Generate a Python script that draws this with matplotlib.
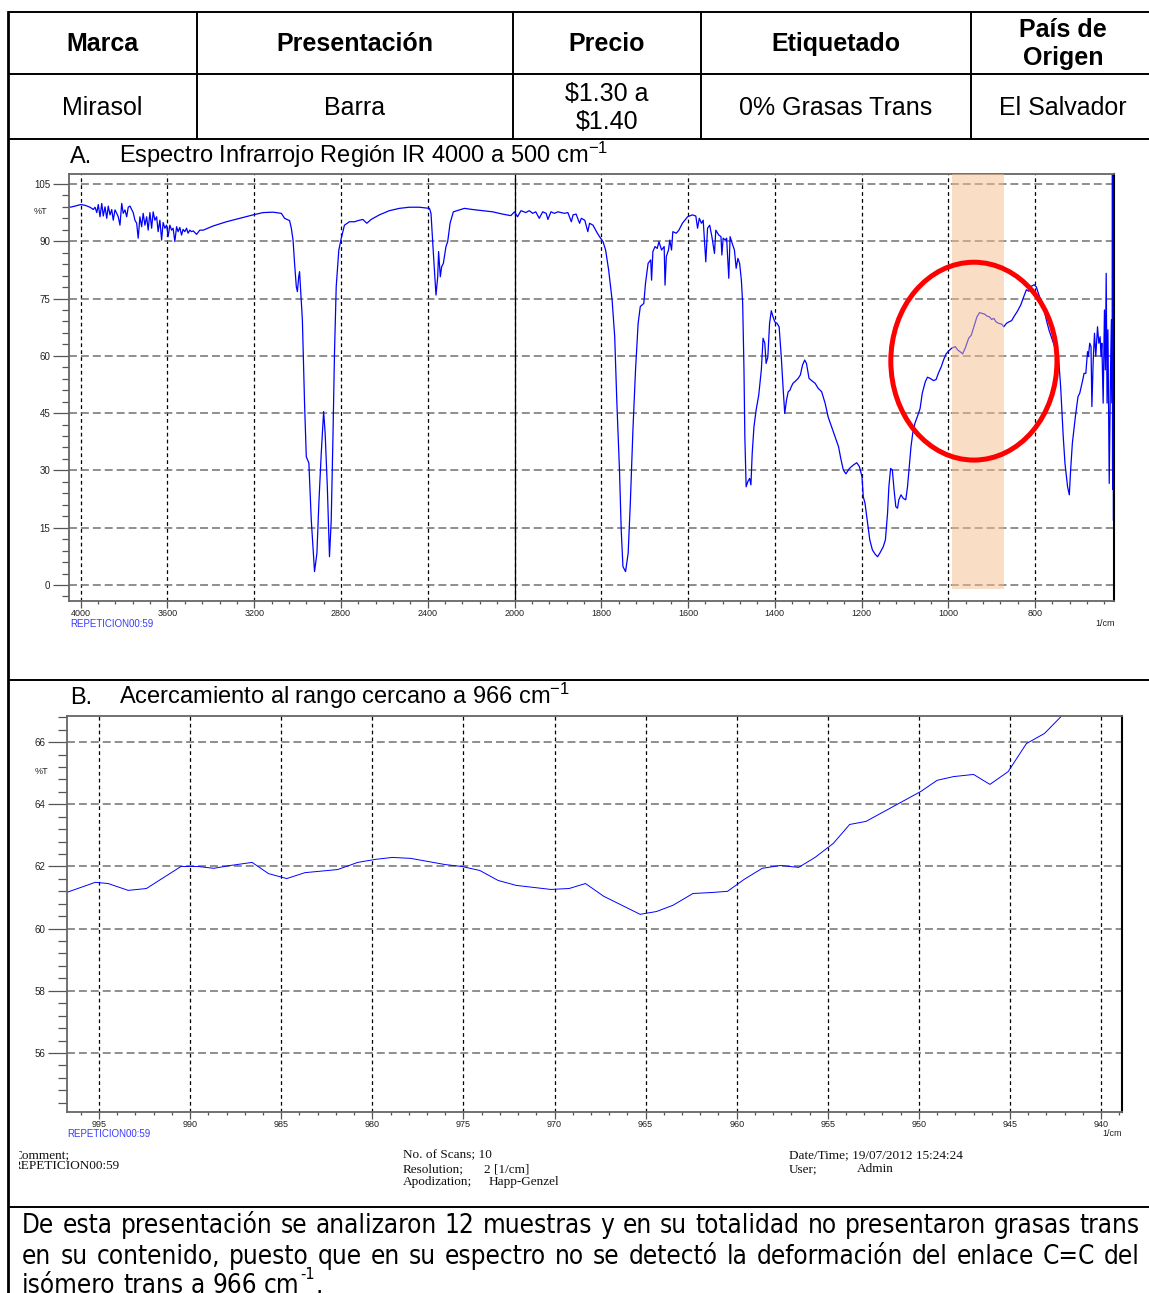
import numpy as np
import matplotlib
matplotlib.use("Agg")
import matplotlib.pyplot as plt
from matplotlib import font_manager
from matplotlib.font_manager import FontProperties
from matplotlib.patches import Ellipse, Rectangle
from matplotlib.ticker import FixedLocator, FuncFormatter, NullFormatter
from matplotlib.transforms import Bbox, TransformedBbox

plt.rcParams["font.family"] = ["Liberation Sans", "DejaVu Sans"]
plt.rcParams["mathtext.fontset"] = "custom"
plt.rcParams["mathtext.rm"] = "Liberation Sans"
plt.rcParams["mathtext.it"] = "Liberation Sans:italic"
plt.rcParams["mathtext.bf"] = "Liberation Sans:bold"

W, H = 1149, 1293

# ---- tabla ----
headers = ["Marca", "Presentación", "Precio", "Etiquetado", "País de\nOrigen"]
row_vals = ["Mirasol", "Barra", "$1.30 a\n$1.40", "0% Grasas Trans", "El Salvador"]

# ---- espectro A (numero de onda cm-1, %T) ----
wn_a = [4049, 4026, 4000, 3980, 3957, 3942, 3934, 3926, 3919, 3911,
        3903, 3896, 3888, 3880, 3873, 3865, 3857, 3850, 3842, 3834,
        3827, 3819, 3811, 3804, 3796, 3788, 3781, 3773, 3765, 3758,
        3750, 3742, 3735, 3727, 3719, 3712, 3704, 3696, 3689, 3681,
        3673, 3666, 3658, 3650, 3643, 3635, 3627, 3620, 3612, 3604,
        3597, 3589, 3581, 3574, 3566, 3558, 3551, 3543, 3535, 3528,
        3520, 3512, 3505, 3497, 3489, 3481, 3466, 3451, 3435, 3389,
        3328, 3267, 3205, 3159, 3113, 3075, 3060, 3037, 3029, 3021,
        3014, 3006, 3001, 2995, 2991, 2978, 2968, 2960, 2948, 2937,
        2922, 2911, 2902, 2891, 2880, 2873, 2863, 2853, 2845, 2837,
        2830, 2822, 2810, 2799, 2784, 2761, 2738, 2715, 2699, 2681,
        2661, 2623, 2577, 2531, 2485, 2439, 2392, 2385, 2374, 2362,
        2354, 2350, 2342, 2336, 2328, 2316, 2308, 2297, 2282, 2254,
        2231, 2193, 2147, 2101, 2055, 2017, 2000, 1993, 1985, 1974,
        1966, 1958, 1951, 1943, 1935, 1927, 1923, 1916, 1908, 1900,
        1892, 1885, 1877, 1869, 1865, 1858, 1850, 1846, 1838, 1831,
        1827, 1819, 1811, 1804, 1796, 1790, 1783, 1775, 1769, 1764,
        1758, 1754, 1750, 1744, 1738, 1733, 1727, 1721, 1715, 1710,
        1702, 1698, 1692, 1686, 1684, 1681, 1676, 1671, 1667, 1661,
        1655, 1653, 1650, 1645, 1642, 1638, 1635, 1627, 1621, 1613,
        1601, 1590, 1582, 1578, 1574, 1569, 1565, 1559, 1555, 1550,
        1545, 1539, 1536, 1529, 1524, 1522, 1519, 1514, 1511, 1506,
        1503, 1497, 1493, 1489, 1485, 1481, 1477, 1474, 1471, 1469,
        1466, 1462, 1458, 1455, 1452, 1448, 1443, 1437, 1431, 1427,
        1423, 1420, 1416, 1412, 1408, 1404, 1400, 1395, 1390, 1385,
        1381, 1377, 1373, 1369, 1365, 1362, 1358, 1354, 1346, 1341,
        1336, 1331, 1327, 1321, 1315, 1307, 1300, 1292, 1284, 1277,
        1269, 1261, 1253, 1248, 1242, 1236, 1228, 1219, 1211, 1205,
        1199, 1196, 1192, 1186, 1181, 1175, 1169, 1163, 1158, 1150,
        1145, 1140, 1137, 1133, 1129, 1125, 1121, 1117, 1114, 1109,
        1104, 1098, 1094, 1090, 1086, 1082, 1077, 1070, 1065, 1060,
        1053, 1048, 1042, 1034, 1028, 1023, 1016, 1011, 1005, 999,
        992, 984, 978, 972, 967, 961, 953, 947, 941, 934,
        928, 922, 916, 911, 905, 900, 895, 890, 884, 877,
        872, 866, 860, 854, 849, 841, 833, 826, 820, 814,
        809, 802, 797, 791, 785, 779, 774, 768, 760, 752,
        746, 741, 735, 731, 725, 721, 718, 714, 707, 701,
        697, 690, 687, 683, 679, 677, 674, 671, 669, 666,
        663, 660, 656, 653, 650, 648, 646, 643, 640, 638,
        636, 634, 632, 629, 626, 624, 622, 621.6, 621.3, 621.0,
        620.7, 620.4, 620.1, 619.8, 619.5]
t_a = [98.9, 99.2, 99.6, 99.4, 98.9, 98.3, 98.9, 97.5, 99.6, 96.4,
       99.9, 96.6, 99.0, 96.0, 99.2, 96.9, 98.3, 95.5, 98.2, 97.3,
       96.4, 94.2, 99.9, 97.3, 98.2, 96.4, 98.9, 99.2, 98.3, 97.5,
       95.5, 94.7, 90.8, 96.4, 93.8, 97.3, 94.2, 96.4, 92.9, 97.5,
       93.4, 97.7, 95.5, 96.4, 92.5, 95.5, 90.3, 94.9, 93.4, 94.2,
       91.2, 94.2, 92.9, 93.4, 89.9, 93.8, 92.5, 93.6, 91.6, 93.1,
       92.5, 93.4, 92.1, 92.9, 92.5, 92.7, 91.8, 92.9, 92.9, 94.0,
       95.1, 96.0, 96.9, 97.5, 97.6, 97.3, 96.0, 95.4, 93.4, 90.3,
       84.2, 78.1, 76.8, 80.7, 82.0, 69.4, 47.6, 33.6, 31.9, 17.0,
       3.5, 8.3, 21.4, 34.5, 45.4, 39.7, 25.7, 7.4, 17.0, 38.8,
       60.6, 78.1, 87.7, 90.7, 94.2, 95.1, 95.1, 95.5, 95.7, 94.7,
       95.7, 96.9, 98.0, 98.6, 98.9, 98.9, 98.6, 97.3, 86.8, 75.9,
       80.7, 87.3, 80.7, 83.3, 84.2, 88.6, 89.9, 94.7, 97.7, 98.2,
       98.6, 98.3, 98.0, 97.7, 97.1, 96.7, 97.7, 96.4, 98.0, 97.5,
       98.0, 97.3, 97.7, 96.0, 97.7, 97.3, 95.7, 97.7, 97.3, 97.7,
       97.5, 97.3, 97.5, 95.1, 96.9, 97.1, 94.7, 96.0, 95.5, 92.5,
       94.7, 94.2, 92.5, 91.2, 89.9, 87.7, 82.5, 74.6, 65.0, 47.6,
       30.1, 14.4, 4.8, 3.5, 8.3, 21.4, 40.6, 56.3, 68.5, 72.9,
       73.7, 79.0, 84.2, 85.1, 79.8, 87.3, 88.6, 88.1, 89.9, 87.7,
       88.6, 78.5, 86.0, 87.7, 90.3, 87.7, 92.5, 92.1, 92.9, 94.7,
       96.4, 96.9, 96.6, 93.4, 96.0, 94.7, 95.5, 84.6, 93.4, 94.2,
       91.2, 86.8, 92.9, 91.6, 91.2, 86.4, 90.8, 90.3, 90.8, 80.3,
       91.2, 89.0, 87.7, 82.9, 85.5, 84.2, 79.8, 73.7, 56.3, 38.8,
       25.7, 27.1, 27.9, 26.2, 34.5, 41.4, 45.8, 49.7, 56.3, 64.6,
       63.3, 58.0, 59.7, 68.5, 71.8, 70.2, 68.9, 68.5, 67.6, 59.7,
       51.9, 44.9, 48.4, 50.6, 51.0, 51.9, 52.8, 53.2, 54.1, 55.0,
       57.6, 58.9, 58.0, 54.1, 53.5, 52.8, 51.5, 50.6, 47.6, 44.0,
       41.4, 38.8, 36.2, 33.2, 30.1, 29.1, 30.5, 31.4, 32.0, 31.0,
       28.4, 23.1, 21.4, 16.1, 11.8, 9.2, 8.1, 7.4, 8.3, 10.0,
       11.8, 18.8, 25.7, 30.5, 30.1, 24.9, 20.5, 20.1, 22.3, 23.6,
       22.7, 22.3, 25.7, 31.0, 36.2, 39.7, 42.3, 44.5, 46.2, 50.2,
       53.2, 54.4, 54.1, 53.5, 53.8, 55.4, 57.2, 58.9, 60.5, 61.3,
       62.0, 62.4, 61.5, 61.0, 60.5, 62.0, 64.6, 65.4, 67.6, 70.2,
       71.3, 71.1, 70.9, 70.4, 70.2, 69.5, 69.8, 68.9, 68.5, 68.3,
       67.6, 68.5, 68.9, 69.2, 70.2, 71.6, 73.3, 75.5, 77.3, 76.9,
       78.2, 78.6, 78.0, 75.9, 74.2, 72.0, 69.4, 66.8, 64.1, 61.5,
       59.8, 51.9, 38.8, 31.8, 25.7, 23.6, 30.1, 37.1, 44.1, 49.3,
       50.2, 53.7, 55.4, 55.4, 61.1, 59.8, 63.3, 62.4, 46.7, 58.5,
       65.9, 59.9, 67.6, 63.3, 65.0, 59.8, 63.3, 47.6, 72.0, 56.3,
       81.6, 47.6, 66.8, 26.6, 56.3, 69.4, 47.6, 108.0, 30.0, 108.0,
       25.0, 108.0, 28.0, 108.0, 17.0]

# ---- espectro B (acercamiento) ----
wn_b = [996.8, 995.2, 994.5, 993.4, 992.4, 990.5, 989.6, 988.7, 987.8, 986.6,
        985.7, 984.7, 983.7, 981.9, 980.8, 979.8, 978.9, 977.9, 976.0, 975.1,
        974.1, 973.1, 972.1, 970.2, 969.2, 968.3, 967.3, 966.3, 965.3, 964.4,
        963.5, 962.4, 961.4, 960.5, 959.6, 958.6, 957.6, 956.6, 955.7, 954.7,
        953.8, 952.9, 951.9, 950.9, 949.9, 949.0, 948.1, 947.0, 946.1, 945.1,
        944.1, 943.1, 942.2, 941.5]
t_b = [61.16, 61.49, 61.45, 61.23, 61.29, 62.0, 62.0, 61.94, 62.03, 62.13,
       61.77, 61.61, 61.8, 61.9, 62.13, 62.23, 62.29, 62.26, 62.06, 62.0,
       61.87, 61.55, 61.39, 61.26, 61.29, 61.45, 61.04, 60.75, 60.46, 60.55,
       60.75, 61.13, 61.16, 61.2, 61.58, 61.94, 62.03, 61.97, 62.29, 62.74,
       63.35, 63.45, 63.77, 64.09, 64.41, 64.77, 64.89, 64.96, 64.64, 65.05,
       65.95, 66.28, 66.82, 67.3]

xa_major = [4000, 3600, 3200, 2800, 2400, 2000, 1800, 1600, 1400, 1200, 1000, 800]
xa_minor = list(range(4000, 2000, -80)) + list(range(2000, 600, -40))
ya_major = [0, 15, 30, 45, 60, 75, 90, 105]
ya_minor = list(np.arange(-3, 108, 3))
xb_major = [995, 990, 985, 980, 975, 970, 965, 960, 955, 950, 945, 940]
xb_minor = list(range(939, 997))
yb_major = [56, 58, 60, 62, 64, 66]
yb_minor = list(np.round(np.arange(54.4, 66.9, 0.4), 1))

band = (871.8, 992.4)   # region resaltada cerca de 966 cm-1

parrafo = [
    "De esta presentación se analizaron 12 muestras y en su totalidad no presentaron grasas trans",
    "en su contenido, puesto que en su espectro no se detectó  la deformación del enlace C=C del",
    "isómero trans a 966 cm",
]


def fig_rect(l, t, r, b):
    return [l / W, 1 - b / H, (r - l) / W, (b - t) / H]


def fwd(x):
    x = np.asarray(x, dtype=float)
    return np.where(x > 2000, 2000 + (x - 2000) * 0.5, x)


def inv(u):
    u = np.asarray(u, dtype=float)
    return np.where(u > 2000, 2000 + (u - 2000) * 2.0, u)


fig = plt.figure(figsize=(W / 100, H / 100), dpi=100)
bg = fig.add_axes([0, 0, 1, 1])
bg.set_xlim(0, W)
bg.set_ylim(H, 0)
bg.axis("off")

# lineas de la tabla
lw_t = 1.4
for y in [12, 74, 139, 680, 1207]:
    bg.plot([8, W], [y, y], color="black", lw=lw_t, solid_capstyle="butt")
bg.plot([8, 8], [12, H], color="black", lw=2.0)
for x in [197, 513, 701, 971]:
    bg.plot([x, x], [12, 139], color="black", lw=lw_t)

col_x = [102, 355, 607, 836, 1063]
for cx, h, v in zip(col_x, headers, row_vals):
    bg.text(cx, 44, h, ha="center", va="center", fontsize=18, fontweight="bold",
            linespacing=1.25, parse_math=False)
    bg.text(cx, 108, v, ha="center", va="center", fontsize=18,
            linespacing=1.25, parse_math=False)

# titulos
bg.text(70, 163, "A.", fontsize=17, va="baseline")
bg.text(119, 163, r"Espectro Infrarrojo Región IR 4000 a 500 cm$^{-1}$", fontsize=17, va="baseline")
bg.text(70, 704, "B.", fontsize=17, va="baseline")
bg.text(119, 704, r"Acercamiento al rango cercano a 966 cm$^{-1}$", fontsize=17, va="baseline")

grid_v = dict(color="black", ls=(0, (3, 2.5)), lw=0.9)
grid_h = dict(color="#707070", ls=(0, (5.2, 2.6)), lw=1.1)
lab_fmt = FuncFormatter(lambda v, p: f"{v:.0f}")

# ---- panel A ----
axA = fig.add_axes(fig_rect(69, 174, 1114, 601))
axA.set_xscale("function", functions=(fwd, inv))
axA.set_xlim(4054, 618)
axA.set_ylim(-4.2, 107.6)
axA.plot(wn_a, t_a, color="#0000ff", lw=0.9, zorder=2)
axA.add_patch(Rectangle((band[0], -1.1), band[1] - band[0], 110, facecolor="#F5BE8C",
                        alpha=0.5, edgecolor="none", zorder=3))
axA.add_patch(Ellipse((941, 58.6), 383, 51.8, facecolor="none", edgecolor="#ff0000",
                      lw=3.6, zorder=4))
axA.axvline(2000, color="black", lw=0.9, zorder=1)
axA.xaxis.set_major_locator(FixedLocator(xa_major))
axA.xaxis.set_minor_locator(FixedLocator(xa_minor))
axA.xaxis.set_major_formatter(lab_fmt)
axA.xaxis.set_minor_formatter(NullFormatter())
axA.yaxis.set_major_locator(FixedLocator(ya_major))
axA.yaxis.set_minor_locator(FixedLocator(ya_minor))
axA.yaxis.set_major_formatter(lab_fmt)
axA.grid(True, axis="x", which="major", **grid_v)
axA.grid(True, axis="y", which="major", **grid_h)
axA.set_axisbelow(True)

# ---- panel B ----
axB = fig.add_axes(fig_rect(67, 716, 1122, 1112))
axB.set_xlim(996.76, 938.85)
axB.set_ylim(54.1, 66.84)
axB.plot(wn_b, t_b, color="#0000ff", lw=0.7, zorder=2)
axB.xaxis.set_major_locator(FixedLocator(xb_major))
axB.xaxis.set_minor_locator(FixedLocator(xb_minor))
axB.xaxis.set_major_formatter(lab_fmt)
axB.yaxis.set_major_locator(FixedLocator(yb_major))
axB.yaxis.set_minor_locator(FixedLocator(yb_minor))
axB.yaxis.set_major_formatter(lab_fmt)
axB.grid(True, axis="x", which="major", **grid_v)
axB.grid(True, axis="y", which="major", **grid_h)
axB.set_axisbelow(True)

for ax, ymaj, ymin_ in [(axA, 11.5, 5.0), (axB, 13.7, 6.5)]:
    ax.tick_params(axis="y", which="major", length=ymaj, width=0.9, color="#555555",
                   labelsize=7, labelcolor="#222222", pad=2)
    ax.tick_params(axis="y", which="minor", length=ymin_, width=0.9, color="#555555")
    ax.tick_params(axis="x", which="major", length=5, width=0.9, color="#555555",
                   labelsize=6.5, labelcolor="#222222", pad=0.8)
    ax.tick_params(axis="x", which="minor", length=2.5, width=0.9, color="#555555")
    for s in ["left", "top", "bottom"]:
        ax.spines[s].set_color("#666666")
        ax.spines[s].set_linewidth(1.3)
    ax.spines["right"].set_color("black")
    ax.spines["right"].set_linewidth(1.5)

# etiquetas de los ejes
small = dict(fontsize=6.5, color="#222222")
bg.text(40, 212, "%T", ha="center", va="center", **small)
bg.text(70, 624, "REPETICION00:59", ha="left", va="center", fontsize=7, color="#3a3aff")
bg.text(1115, 624, "1/cm", ha="right", va="center", **small)
bg.text(41, 772, "%T", ha="center", va="center", **small)
bg.text(67, 1134, "REPETICION00:59", ha="left", va="center", fontsize=7, color="#3a3aff")
bg.text(1122, 1134, "1/cm", ha="right", va="center", **small)

# pie del espectro (Times)
serif = dict(family="Liberation Serif", fontsize=9.5, va="center", color="#111111")
clip = TransformedBbox(Bbox([[19, 1140], [W, 1200]]), bg.transData)
for y, s in [(1155, "Comment;"), (1166, "REPETICION00:59")]:
    t = bg.text(13, y, s, **serif)
    t.set_clip_box(clip)
    t.set_clip_on(True)
bg.text(403, 1155, "No. of Scans; 10", **serif)
bg.text(403, 1169, "Resolution;", **serif)
bg.text(484, 1169, "2 [1/cm]", **serif)
bg.text(403, 1182, "Apodization;", **serif)
bg.text(489, 1182, "Happ-Genzel", **serif)
bg.text(789, 1155, "Date/Time; 19/07/2012 15:24:24", **serif)
bg.text(789, 1169, "User;", **serif)
bg.text(857, 1169, "Admin", **serif)

# ---- parrafo final (justificado) ----
pprop = FontProperties(family="Liberation Sans")
narrow = False
for f in font_manager.fontManager.ttflist:
    if f.style != "normal" or f.weight not in (400, "normal", "regular"):
        continue
    if "Narrow" in f.name or f.stretch in ("condensed", "semi-condensed"):
        if "Sans" in f.name or "Arial" in f.name:
            pprop = FontProperties(fname=f.fname)
            narrow = True
            break
renderer = fig.canvas.get_renderer()


def text_w(s, size):
    t = bg.text(0, 0, s, fontproperties=pprop, fontsize=size)
    w = t.get_window_extent(renderer).width
    t.remove()
    return w


psize = 20.0
nat = text_w(parrafo[0], psize)
psize = min(20.5, psize * 1108 / nat)
x_left, x_right = 22, 1140
baselines = [1233, 1264, 1293]
for i, line in enumerate(parrafo):
    words = line.split()
    ws = [text_w(w, psize) for w in words]
    if i < 2:
        gap = (x_right - x_left - sum(ws)) / (len(words) - 1)
    else:
        gap = text_w("a a", psize) - text_w("aa", psize)
    x = x_left
    for w, wd in zip(words, ws):
        bg.text(x, baselines[i], w, fontproperties=pprop, fontsize=psize, va="baseline")
        x += wd + gap
    if i == 2:
        xe = x - gap + 1
        bg.text(xe, baselines[i] - psize * 0.75, "-1", fontproperties=pprop,
                fontsize=psize * 0.62, va="baseline")
        bg.text(xe + text_w("-1", psize * 0.62), baselines[i], ".", fontproperties=pprop,
                fontsize=psize, va="baseline")

fig.savefig("out.png", dpi=100)
